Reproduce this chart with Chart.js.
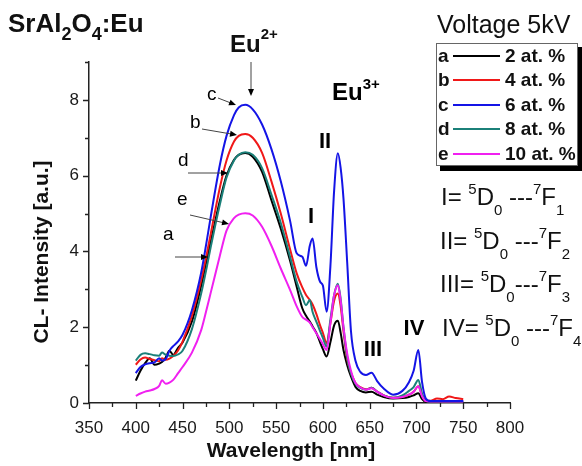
<!DOCTYPE html>
<html>
<head>
<meta charset="utf-8">
<title>SrAl2O4:Eu cathodoluminescence</title>
<script src="https://cdn.jsdelivr.net/npm/chart.js@4.4.1/dist/chart.umd.min.js"></script>
<style>
  html, body { margin: 0; padding: 0; background: #fff; }
</style>
</head>
<body>
<canvas id="clChart" width="582" height="466"></canvas>
<script>
// wavelength grid in nm, shared by all spectra
const wavelengths = [400, 405, 410, 415, 420, 425, 428, 432, 436, 440,
  445, 450, 460, 470, 476, 480, 490, 497, 505, 510,
  517, 525, 535, 545, 555, 565, 572, 578, 582, 586,
  589, 593, 597, 600, 604, 608, 612, 616, 619, 622,
  626, 630, 635, 640, 646, 652, 658, 665, 675, 685,
  692, 697, 702, 706, 710, 715, 722, 728, 735, 742, 750];

// CL intensity (a.u.) for each Eu concentration
const eu2 = [0.59, 0.85, 1.05, 1.18, 1.01, 1.04, 1.08, 1.2, 1.38, 1.27,
  1.45, 1.6, 2.15, 3.1, 3.8, 4.25, 5.35, 6.0, 6.42, 6.55,
  6.6, 6.5, 6.1, 5.35, 4.6, 3.75, 3.07, 2.5, 2.3, 2.15,
  2.02, 1.85, 1.6, 1.42, 1.23, 1.6, 2.05, 2.17, 1.85, 1.4,
  1.0, 0.7, 0.42, 0.32, 0.28, 0.3, 0.22, 0.16, 0.12, 0.13,
  0.16, 0.2, 0.26, 0.1, 0.03, 0.03, 0.03, 0.03, 0.03, 0.03, 0.03];
const eu4 = [1.01, 1.15, 1.2, 1.16, 1.13, 1.1, 1.18, 1.14, 1.17, 1.24,
  1.38, 1.62, 2.3, 3.25, 3.95, 4.45, 5.7, 6.4, 6.9, 7.05,
  7.1, 7.0, 6.6, 5.85, 5.0, 4.05, 3.42, 3.05, 2.85, 2.72,
  2.6, 2.35, 2.05, 1.85, 1.58, 2.1, 2.7, 2.89, 2.55, 1.9,
  1.15, 0.8, 0.52, 0.42, 0.36, 0.4, 0.3, 0.2, 0.14, 0.16,
  0.22, 0.3, 0.44, 0.2, 0.06, 0.06, 0.12, 0.1, 0.17, 0.13, 0.1];
const eu6 = [0.79, 0.95, 1.02, 1.05, 1.07, 1.18, 1.12, 1.16, 1.38, 1.5,
  1.62, 1.8, 2.45, 3.45, 4.3, 4.9, 6.3, 7.05, 7.6, 7.8,
  7.87, 7.75, 7.35, 6.7, 5.85, 4.8, 3.95, 3.86, 3.62, 4.15,
  4.34, 3.59, 3.2, 3.1, 2.41, 3.6, 5.6, 6.59, 6.2, 5.4,
  3.7, 1.9, 1.1, 0.82, 0.74, 0.8, 0.58, 0.38, 0.22, 0.32,
  0.55, 0.85, 1.4, 0.55, 0.12, 0.05, 0.05, 0.05, 0.05, 0.05, 0.05];
const eu8 = [1.12, 1.27, 1.31, 1.29, 1.26, 1.25, 1.33, 1.27, 1.25, 1.24,
  1.28, 1.38, 1.95, 2.9, 3.6, 4.1, 5.25, 5.95, 6.4, 6.55,
  6.62, 6.55, 6.2, 5.5, 4.75, 3.85, 3.2, 2.8, 2.58, 2.72,
  2.4, 2.15, 1.9, 1.72, 1.49, 2.2, 2.85, 3.15, 2.75, 2.0,
  1.2, 0.78, 0.5, 0.4, 0.35, 0.4, 0.3, 0.2, 0.14, 0.2,
  0.32, 0.42, 0.61, 0.25, 0.06, 0.04, 0.04, 0.04, 0.04, 0.04, 0.04];
const eu10 = [0.19, 0.25, 0.3, 0.33, 0.37, 0.45, 0.6, 0.51, 0.54, 0.61,
  0.78, 0.95, 1.33, 1.93, 2.5, 2.9, 3.9, 4.55, 4.88, 4.97,
  5.01, 4.95, 4.65, 4.15, 3.55, 2.98, 2.55, 2.27, 2.2, 2.12,
  2.0, 1.84, 1.68, 1.55, 1.4, 2.1, 2.85, 3.11, 2.7, 2.0,
  1.3, 0.85, 0.52, 0.41, 0.35, 0.39, 0.3, 0.2, 0.13, 0.16,
  0.22, 0.3, 0.44, 0.18, 0.05, 0.04, 0.04, 0.04, 0.04, 0.04, 0.04];

const seriesKeys = ['a', 'b', 'c', 'd', 'e'];
const seriesNames = ['2 at. %', '4 at. %', '6 at. %', '8 at. %', '10 at. %'];
const seriesValues = [eu2, eu4, eu6, eu8, eu10];
const seriesColors = ['#000000', '#f01818', '#1414e6', '#1b8079', '#f020f0'];
const drawOrder = [4, 3, 0, 2, 1]; // blue on top, black at the bottom

const xTicks = [350, 400, 450, 500, 550, 600, 650, 700, 750, 800];
const yTicks = [0, 2, 4, 6, 8];

const FONT = '"Liberation Sans", Arial, Helvetica, sans-serif';

function font(size, bold) {
  return (bold ? 'bold ' : '') + size + 'px ' + FONT;
}

// draws text made of normal / superscript / subscript pieces
function richText(ctx, x, y, parts, size, bold, small, rise, drop) {
  let cx = x;
  parts.forEach(([txt, kind]) => {
    let dy = 0;
    ctx.font = font(kind === 'n' ? size : small, bold);
    if (kind === 'sup') dy = -rise;
    if (kind === 'sub') dy = drop;
    ctx.fillText(txt, cx, y + dy);
    cx += ctx.measureText(txt).width;
  });
}

function arrow(ctx, x1, y1, x2, y2) {
  const ang = Math.atan2(y2 - y1, x2 - x1);
  ctx.strokeStyle = '#444';
  ctx.lineWidth = 1;
  ctx.beginPath();
  ctx.moveTo(x1, y1);
  ctx.lineTo(x2 - 4 * Math.cos(ang), y2 - 4 * Math.sin(ang));
  ctx.stroke();
  ctx.fillStyle = '#000';
  ctx.beginPath();
  ctx.moveTo(x2, y2);
  ctx.lineTo(x2 - 7 * Math.cos(ang) + 3 * Math.sin(ang), y2 - 7 * Math.sin(ang) - 3 * Math.cos(ang));
  ctx.lineTo(x2 - 7 * Math.cos(ang) - 3 * Math.sin(ang), y2 - 7 * Math.sin(ang) + 3 * Math.cos(ang));
  ctx.closePath();
  ctx.fill();
}

// outward tick marks, long on labelled values, short in between
const tickMarks = {
  id: 'tickMarks',
  afterDraw(chart) {
    const {ctx, scales: {x, y}} = chart;
    ctx.save();
    ctx.strokeStyle = '#222';
    ctx.lineWidth = 1.3;
    ctx.beginPath();
    for (let v = 350; v <= 800; v += 25) {
      const px = Math.round(x.getPixelForValue(v)) + 0.5;
      const len = xTicks.includes(v) ? 6 : 4;
      ctx.moveTo(px, y.bottom);
      ctx.lineTo(px, y.bottom + len);
    }
    for (let v = 0; v <= 9; v += 1) {
      const py = Math.round(y.getPixelForValue(v)) + 0.5;
      const len = yTicks.includes(v) ? 6 : 4;
      ctx.moveTo(x.left, py);
      ctx.lineTo(x.left - len, py);
    }
    ctx.stroke();
    ctx.restore();
  }
};

// titles, band labels, legend box and transition list
const annotations = {
  id: 'annotations',
  afterDraw(chart) {
    const ctx = chart.ctx;
    ctx.save();
    ctx.fillStyle = '#111';
    ctx.textBaseline = 'alphabetic';
    ctx.textAlign = 'left';

    // axis titles
    ctx.font = font(21, true);
    ctx.textAlign = 'center';
    ctx.fillText('Wavelength [nm]', 291, 457);
    ctx.save();
    ctx.translate(48, 252);
    ctx.rotate(-Math.PI / 2);
    ctx.fillText('CL- Intensity [a.u.]', 0, 0);
    ctx.restore();
    ctx.textAlign = 'left';

    // sample name
    richText(ctx, 8, 32, [['SrAl', 'n'], ['2', 'sub'], ['O', 'n'], ['4', 'sub'], [':Eu', 'n']], 26, true, 18, 0, 8);

    // Eu2+ band with its arrow
    richText(ctx, 230, 52, [['Eu', 'n'], ['2+', 'sup']], 24, true, 15, 13, 0);
    arrow(ctx, 251, 62, 251, 96);
    // Eu3+ lines
    richText(ctx, 332, 100, [['Eu', 'n'], ['3+', 'sup']], 24, true, 15, 11, 0);

    ctx.font = font(22, true);
    ctx.textAlign = 'center';
    ctx.fillText('II', 325, 148);
    ctx.fillText('I', 311, 223);
    ctx.fillText('III', 373, 356);
    ctx.fillText('IV', 414, 335);
    ctx.textAlign = 'left';

    // curve letters with pointers
    ctx.font = font(19, false);
    ctx.fillText('c', 207, 100);
    ctx.fillText('b', 190, 128);
    ctx.fillText('d', 178, 166);
    ctx.fillText('e', 177, 205);
    ctx.fillText('a', 163, 240);
    arrow(ctx, 218, 98, 236, 105);
    arrow(ctx, 202, 129, 237, 135);
    arrow(ctx, 188, 173, 228, 173);
    arrow(ctx, 190, 215, 229, 224);
    arrow(ctx, 175, 257, 208, 257);

    // legend
    ctx.fillStyle = '#111';
    ctx.font = font(25, false);
    ctx.fillText('Voltage 5kV', 437, 33);
    ctx.fillStyle = '#000';
    ctx.fillRect(440, 47, 143, 124);
    ctx.fillStyle = '#fff';
    ctx.fillRect(436, 43, 142, 123);
    ctx.strokeStyle = '#666';
    ctx.lineWidth = 1;
    ctx.strokeRect(436.5, 43.5, 141, 122);
    const rowY = [56, 80, 105, 129, 154];
    seriesKeys.forEach((k, i) => {
      const yy = rowY[i];
      ctx.fillStyle = '#111';
      ctx.font = font(19, true);
      ctx.textBaseline = 'middle';
      ctx.fillText(k, 438, yy + 1);
      ctx.fillText(seriesNames[i], 505, yy + 1);
      ctx.strokeStyle = seriesColors[i];
      ctx.lineWidth = 2;
      ctx.beginPath();
      ctx.moveTo(453, yy);
      ctx.lineTo(500, yy);
      ctx.stroke();
    });
    ctx.textBaseline = 'alphabetic';

    // transition list
    ctx.fillStyle = '#111';
    const eqs = [
      [441, 205, 'I= ', ' ---', '1'],
      [440, 249, 'II= ', ' ---', '2'],
      [440, 292, 'III= ', '---', '3'],
      [442, 336, 'IV= ', ' ---', '4']
    ];
    eqs.forEach(([ex, ey, head, dash, f]) => {
      richText(ctx, ex, ey, [[head, 'n'], ['5', 'sup'], ['D', 'n'], ['0', 'sub'], [dash, 'n'], ['7', 'sup'], ['F', 'n'], [f, 'sub']], 24, false, 15, 11, 10);
    });
    ctx.restore();
  }
};

const datasets = seriesKeys.map((k, i) => ({
  label: seriesNames[i],
  data: wavelengths.map((w, j) => ({ x: w, y: seriesValues[i][j] })),
  borderColor: seriesColors[i],
  backgroundColor: seriesColors[i],
  borderWidth: 2,
  pointRadius: 0,
  fill: false,
  cubicInterpolationMode: 'monotone',
  order: drawOrder[i]
}));

const ctx = document.getElementById('clChart').getContext('2d');
const clChart = new Chart(ctx, {
  type: 'line',
  data: { datasets: datasets },
  options: {
    responsive: false,
    animation: false,
    devicePixelRatio: 1,
    layout: { padding: { left: 0, right: 72, top: 62, bottom: 0 } },
    plugins: {
      legend: { display: false },
      tooltip: { enabled: false }
    },
    scales: {
      x: {
        type: 'linear',
        min: 350,
        max: 800,
        grid: { display: false, drawTicks: false },
        border: { display: true, color: '#222', width: 1.5 },
        ticks: {
          stepSize: 50,
          padding: 15,
          maxRotation: 0,
          color: '#1a1a1a',
          font: { family: FONT, size: 17 }
        },
        afterFit(scale) { scale.height = 63; }
      },
      y: {
        type: 'linear',
        min: 0,
        max: 9,
        grid: { display: false, drawTicks: false },
        border: { display: true, color: '#222', width: 1.5 },
        ticks: {
          stepSize: 1,
          padding: 10,
          color: '#1a1a1a',
          font: { family: FONT, size: 17 },
          callback: v => (yTicks.includes(v) ? v : '')
        },
        afterFit(scale) { scale.width = 89; }
      }
    }
  },
  plugins: [tickMarks, annotations]
});
</script>
</body>
</html>
